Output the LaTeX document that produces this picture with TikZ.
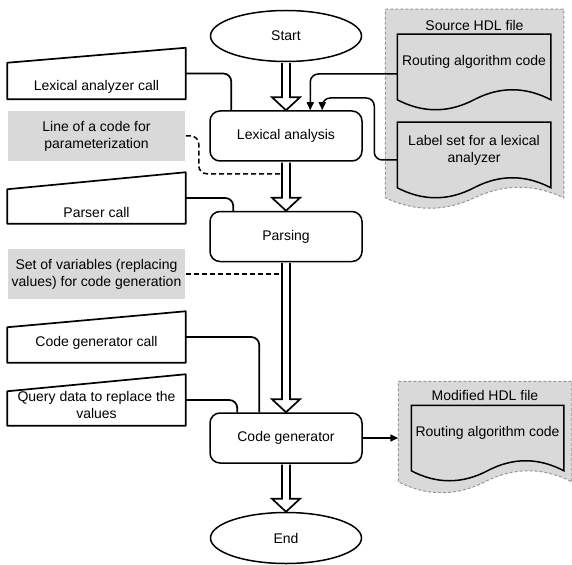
\documentclass[tikz,border=0pt]{standalone}
\usepackage{fontspec}
\setmainfont{Liberation Sans}
\usetikzlibrary{arrows.meta,calc,shapes.geometric,backgrounds}
\definecolor{boxgray}{RGB}{217,217,217}
\definecolor{dashgray}{RGB}{150,150,150}

% document shape: #1 style, #2 node, #3 extension below node, #4 wave amplitude
\newcommand{\docshape}[4]{%
\draw[#1] let \p1=(#2.north west), \p2=(#2.south east), \n1={(\x2-\x1)/6}, \n2={(\x1+\x2)/2}, \n3={4*#4/3} in
 (\x1,\y1) -- (\x2,\y1) -- (\x2,\y2-#3)
 .. controls (\x2-\n1,\y2-#3+\n3) and (\n2+\n1,\y2-#3+\n3) .. (\n2,\y2-#3)
 .. controls (\n2-\n1,\y2-#3-\n3) and (\x1+\n1,\y2-#3-\n3) .. (\x1,\y2-#3) -- cycle;}

% hollow flow arrow from #1 down to #2
\newcommand{\hollowarr}[2]{%
\draw[hollowarrow] let \p1=(#1), \p2=(#2) in
 (\x1-4pt,\y1-0.8pt) -- (\x1-4pt,\y2+13pt) -- (\x1-14pt,\y2+13pt) -- (\x2,\y2)
 -- (\x1+14pt,\y2+13pt) -- (\x1+4pt,\y2+13pt) -- (\x1+4pt,\y1-0.8pt);}

% manual input shape drawn on node #1 with slant #2
\newcommand{\manualin}[2]{%
\draw[manualline] (#1.south west) -- (#1.south east) -- (#1.north east) -- ([yshift=-#2]#1.north west) -- cycle;}

\begin{document}
\begin{tikzpicture}[x=1pt,y=-1pt, line width=1.5pt, draw=black,
  every node/.style={font=\fontsize{14}{17}\selectfont, inner sep=0pt},
  term/.style={ellipse, draw=black, fill=white, minimum width=151pt, minimum height=51pt},
  proc/.style={rectangle, draw=black, fill=white, rounded corners=10pt, minimum width=152pt, minimum height=50pt},
  shapebox/.style={rectangle, minimum width=177pt, minimum height=50pt},
  graybox/.style={rectangle, fill=boxgray, minimum width=177pt, minimum height=50pt, align=center},
  manualline/.style={draw=black, line width=1.7pt, line join=round},
  conn/.style={draw=black, line width=1.7pt, rounded corners=8pt},
  dconn/.style={draw=black, line width=1.5pt, dash pattern=on 5pt off 3pt, rounded corners=8pt},
  arr/.style={draw=black, line width=1.5pt, -{Triangle[length=8pt,width=7pt]}, rounded corners=8pt},
  hollowarrow/.style={draw=black, line width=1.7pt, fill=white, line join=miter},
  txt/.style={align=center},
  container/.style={fill=boxgray, draw=dashgray, dash pattern=on 3pt off 2pt, line width=1pt},
  docpaper/.style={fill=boxgray, draw=black, line width=1.5pt}]

\useasboundingbox (0,0) rectangle (572,564);

% main flow
\node[term] (start) at (286,36) {Start};
\node[proc] (lex) at (286,136) {Lexical analysis};
\node[proc] (parse) at (286,236.5) {Parsing};
\node[proc] (gen) at (286,438) {Code generator};
\node[term] (end) at (286,538) {End};

% left inputs
\node[shapebox] (lac) at (96.5,73.5) {};
\node[txt] (lact) at (96.5,87) {Lexical analyzer call};
\node[graybox] (lpc) at (96.5,136) {Line of a code for\\parameterization};
\node[shapebox] (pc) at (96.5,198) {};
\node[txt] (pct) at (96.5,212) {Parser call};
\node[graybox] (sov) at (96.5,274) {Set of variables (replacing\\values) for code generation};
\node[shapebox] (cgc) at (96.5,337) {};
\node[txt] (cgct) at (96.5,343) {Code generator call};
\node[shapebox] (qd) at (96.5,400) {};
\node[txt] (qdt) at (96.5,405) {Query data to replace the\\values};

% right documents
\node[minimum width=177pt, minimum height=187pt] (src) at (474.5,103.5) {};
\node[txt] (srct) at (474.5,25) {Source HDL file};
\node[txt, minimum width=152pt, minimum height=54pt] (rac) at (474,62) {Routing algorithm code};
\node[txt, minimum width=152pt, minimum height=54pt] (lsd) at (474,150) {Label set for a lexical\\analyzer};

\node[minimum width=172pt, minimum height=99pt] (mod) at (485,431.5) {};
\node[txt] (modt) at (485,395) {Modified HDL file};
\node[txt, minimum width=151pt, minimum height=54pt] (rac2) at (487.5,433) {Routing algorithm code};

\begin{pgfonlayer}{background}
  \docshape{container}{src}{0pt}{10.5pt}
  \docshape{docpaper}{rac}{10pt}{10pt}
  \docshape{docpaper}{lsd}{10pt}{10pt}
  \docshape{container}{mod}{0pt}{11pt}
  \docshape{docpaper}{rac2}{10pt}{10pt}
  \manualin{lac}{15pt}
  \manualin{pc}{17pt}
  \manualin{cgc}{16pt}
  \manualin{qd}{17pt}
\end{pgfonlayer}

% hollow flow arrows
\hollowarr{start.south}{lex.north}
\hollowarr{lex.south}{parse.north}
\hollowarr{parse.south}{gen.north}
\hollowarr{gen.south}{end.north}

% connectors
\draw[conn] (lac.east) -| ([xshift=22pt]lex.north west);
\draw[conn] (pc.east) -| ([xshift=24pt]parse.north west);
\draw[conn] (cgc.east) -| ([xshift=50pt]gen.north west);
\draw[conn] (qd.east) -| ([xshift=28pt]gen.north west);

\draw[dconn] (lpc.east) -- ++(13,0) |- ([xshift=-4pt,yshift=-12pt]lex.south);
\draw[dconn] (sov.east) -- ([xshift=-4pt]sov.east -| parse.south);

\draw[arr] ([yshift=-12pt]rac.west) -| ([xshift=101pt]lex.north west);
\draw[arr] ([yshift=-10pt]lsd.west) -- ++(-23,0) -- ++(0,-62) -| ([xshift=113pt]lex.north west);
\draw[arr] (gen.east) -- (gen.east -| mod.west);

\end{tikzpicture}
\end{document}
